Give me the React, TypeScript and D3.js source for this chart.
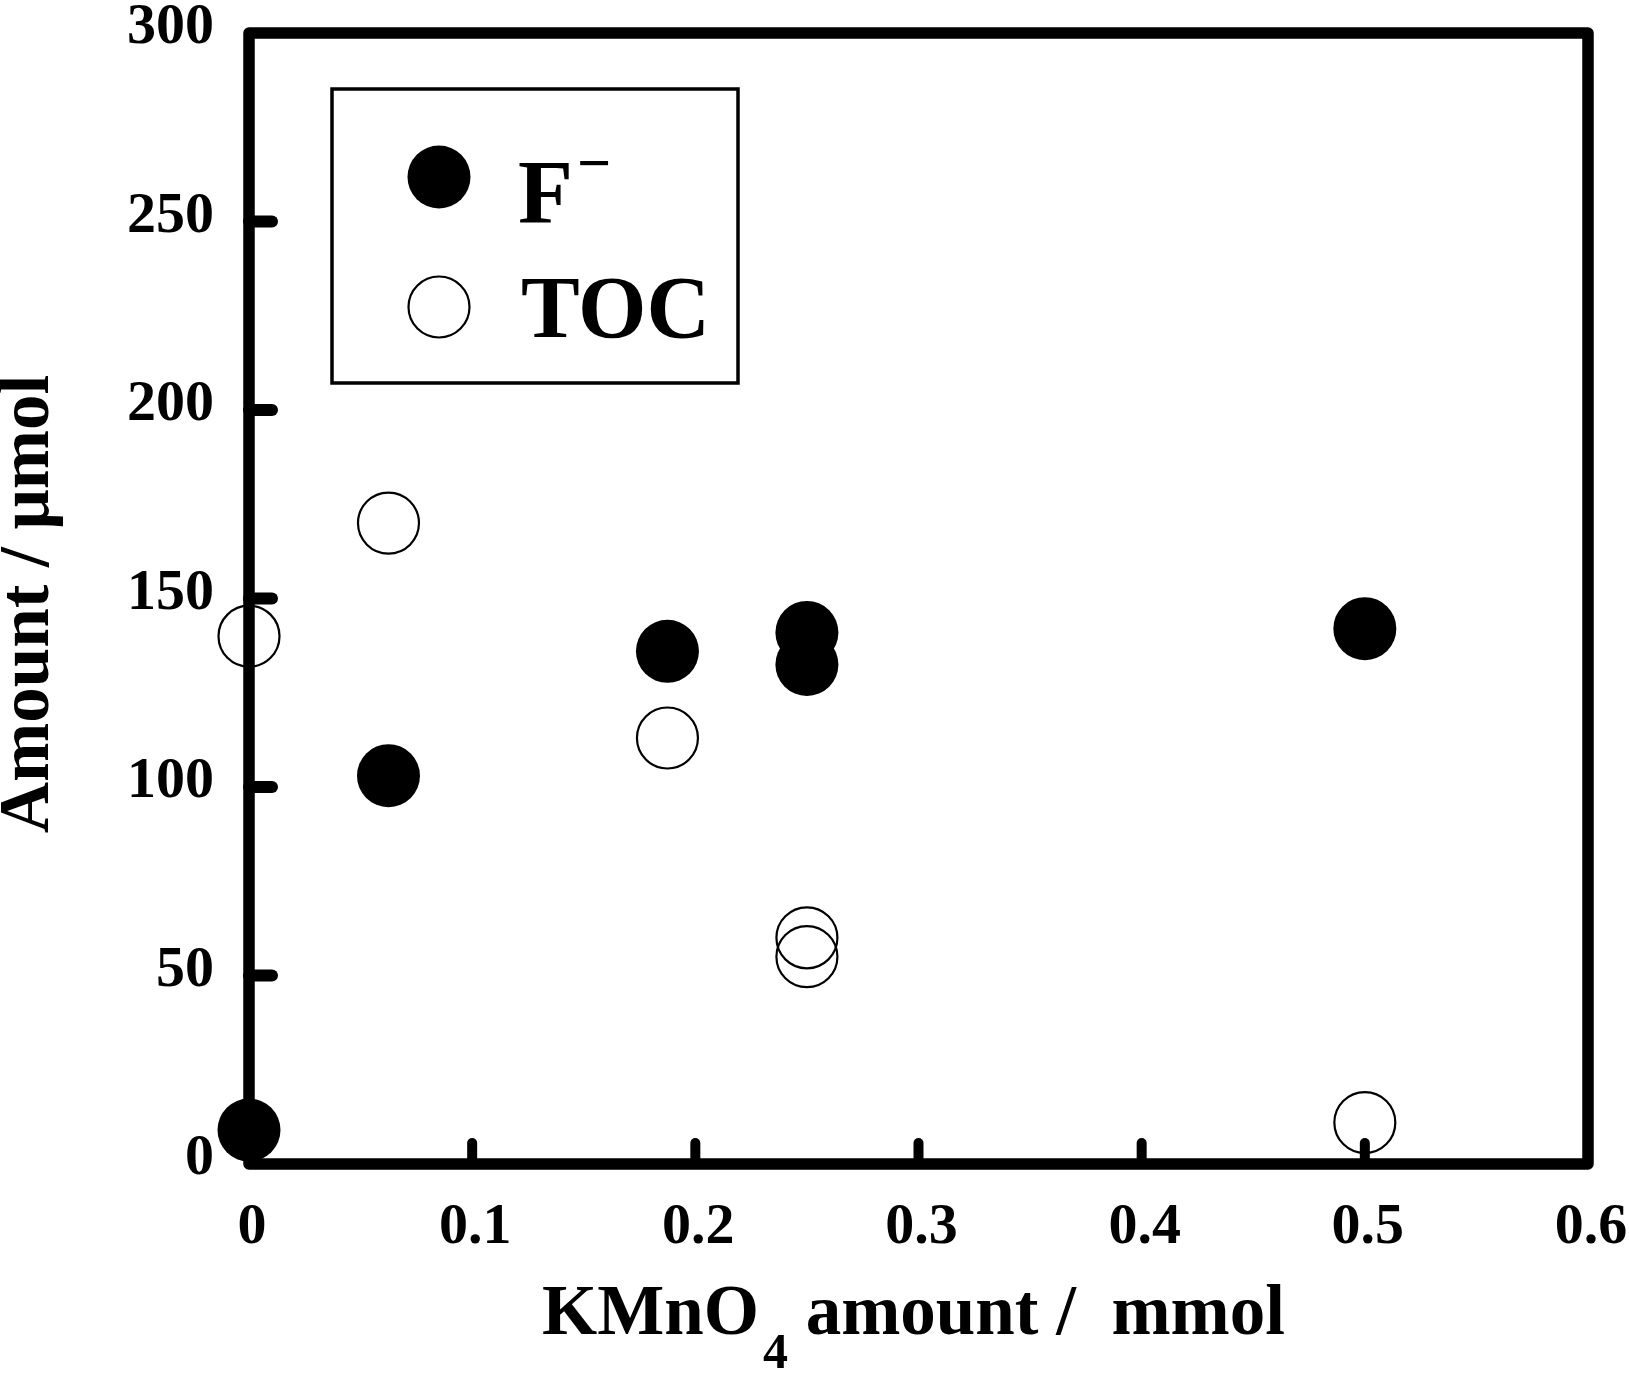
import React from 'react';
import * as d3 from 'd3';

// KMnO4 amount (mmol) for each run
const kmno4Amounts = [0, 0.0625, 0.1875, 0.25, 0.25, 0.5];
// F- released (umol)
const fluorideValues = [9, 103, 136, 141, 132.5, 142];
// TOC remaining (umol)
const tocValues = [140, 170, 113, 60, 55, 11];

const xTickValues = [0, 0.1, 0.2, 0.3, 0.4, 0.5, 0.6];
const yTickValues = [0, 50, 100, 150, 200, 250, 300];

const WIDTH = 1629;
const HEIGHT = 1373;
const FONT = '"Liberation Serif", "Times New Roman", Times, serif';

const App: React.FC = () => {
  const margin = { left: 249, right: 1588, top: 33, bottom: 1164 };

  const x = d3.scaleLinear().domain([0, 0.6]).range([margin.left, margin.right]);
  const y = d3.scaleLinear().domain([0, 300]).range([margin.bottom, margin.top]);

  const r = 31.5;
  const tickFmt = (v: number) => (v === 0 ? '0' : d3.format('.1f')(v));

  return (
    <svg
      width={WIDTH}
      height={HEIGHT}
      style={{ position: 'absolute', left: 0, top: 0, background: '#fff' }}
      fontFamily={FONT}
      fontWeight="bold"
    >
      <rect x={0} y={0} width={WIDTH} height={HEIGHT} fill="#fff" />

      {/* Y ticks (inward) and labels */}
      {yTickValues.map((v) => (
        <g key={`y${v}`}>
          {v > 0 && v < 300 && (
            <line
              x1={x(0)}
              x2={x(0) + 23}
              y1={y(v)}
              y2={y(v)}
              stroke="#000"
              strokeWidth={12}
              strokeLinecap="round"
            />
          )}
          <text x={214} y={y(v) + 10} textAnchor="end" fontSize={58}>
            {v}
          </text>
        </g>
      ))}

      {/* X ticks (inward) and labels */}
      {xTickValues.map((v) => (
        <g key={`x${v}`}>
          {v > 0 && v < 0.6 && (
            <line
              x1={x(v)}
              x2={x(v)}
              y1={y(0)}
              y2={y(0) - 21}
              stroke="#000"
              strokeWidth={10}
              strokeLinecap="round"
            />
          )}
          <text x={x(v) + 3} y={1243} textAnchor="middle" fontSize={58}>
            {tickFmt(v)}
          </text>
        </g>
      ))}

      {/* Frame */}
      <rect
        x={margin.left}
        y={margin.top}
        width={margin.right - margin.left}
        height={margin.bottom - margin.top}
        fill="none"
        stroke="#000"
        strokeWidth={11.5}
        strokeLinejoin="round"
      />

      {/* TOC (open) */}
      {kmno4Amounts.map((k, i) => (
        <circle
          key={`toc${i}`}
          cx={x(k)}
          cy={y(tocValues[i])}
          r={r - 1}
          fill="none"
          stroke="#000"
          strokeWidth={2.2}
        />
      ))}

      {/* F- (filled) */}
      {kmno4Amounts.map((k, i) => (
        <circle key={`f${i}`} cx={x(k)} cy={y(fluorideValues[i])} r={r} fill="#000" />
      ))}

      {/* Legend */}
      <rect x={332} y={89} width={406} height={294} fill="#fff" stroke="#000" strokeWidth={3.5} />
      <circle cx={439} cy={177} r={r} fill="#000" />
      <circle cx={439} cy={307} r={r - 1} fill="none" stroke="#000" strokeWidth={2.2} />
      <text x={518} y={223} fontSize={90}>
        F
        <tspan fontSize={60} dx={4} dy={-40}>
          −
        </tspan>
      </text>
      <text x={521} y={337} fontSize={88}>
        TOC
      </text>

      {/* X axis title */}
      <text x={542} y={1334} fontSize={71} style={{ whiteSpace: 'pre' }}>
        KMnO
        <tspan fontSize={50} dx={4} dy={34}>
          4
        </tspan>
        <tspan dy={-34}>{' amount /  mmol'}</tspan>
      </text>

      {/* Y axis title */}
      <text
        transform={`translate(48, ${604}) rotate(-90)`}
        textAnchor="middle"
        fontSize={71}
      >
        Amount / μmol
      </text>
    </svg>
  );
};

export default App;
